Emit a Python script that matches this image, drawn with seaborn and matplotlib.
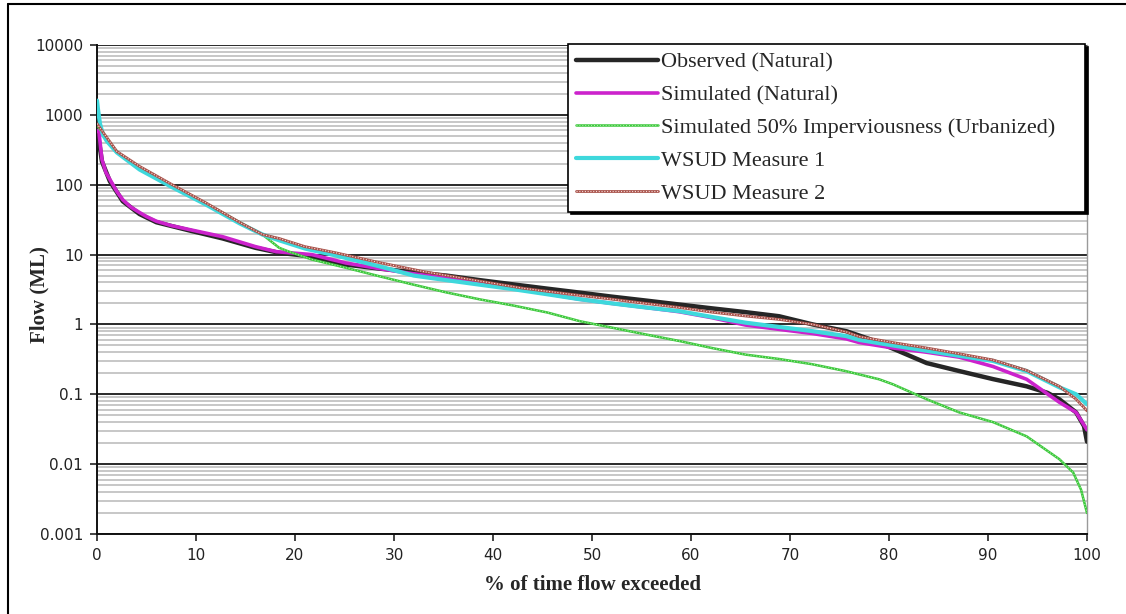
import matplotlib
matplotlib.use("Agg")
import matplotlib.pyplot as plt
from matplotlib.lines import Line2D
from matplotlib.ticker import LogLocator, NullFormatter, FixedLocator, FixedFormatter
import seaborn as sns

# Flow duration curves: % of time exceeded vs flow (ML)
obs_x = [0, 0.2, 0.5, 1.3, 2.6, 4.3, 6, 9.4, 12.7, 16, 18.4, 21.7, 25.1, 28.5, 31.9,
         35.3, 38.7, 42, 45.5, 48.8, 52, 55.4, 58.8, 62.1, 65.5, 68.9, 72.3, 75.7, 78,
         80.4, 83.8, 87.1, 90.5, 93.9, 96, 97.2, 98.9, 99.7, 100]
obs_y = [480, 420, 215, 112, 58, 38, 29, 22, 17, 12.5, 10.6, 9.4, 7.2, 6.3, 5.6,
         5.0, 4.3, 3.75, 3.25, 2.85, 2.5, 2.2, 1.93, 1.7, 1.5, 1.31, 1.0, 0.8, 0.62,
         0.45, 0.28, 0.215, 0.165, 0.13, 0.105, 0.085, 0.055, 0.035, 0.021]

sim_x = [0, 0.2, 0.5, 0.9, 1.3, 2.0, 2.6, 3.4, 4.3, 5.0, 6, 7.5, 9.4, 12.7, 16, 18.1,
         21.7, 25.1, 28.5, 31.2, 35.3, 38.7, 42, 45.5, 48.7, 52, 55.4, 58.8, 62.1, 65.5,
         68.9, 72.3, 75.7, 77, 80.4, 83.8, 87.1, 90.5, 93.9, 97.2, 98.9, 100]
sim_y = [600, 560, 230, 150, 119, 80, 61, 48, 40, 35, 30, 26, 22.7, 18, 13, 11,
         10, 7.6, 6.3, 5.5, 4.6, 3.9, 3.3, 2.75, 2.3, 2.0, 1.75, 1.52, 1.25, 0.98,
         0.85, 0.74, 0.62, 0.55, 0.46, 0.40, 0.34, 0.25, 0.164, 0.077, 0.055, 0.031]

urb_x = [0, 0.4, 2, 4.3, 7.6, 11, 14.4, 16.7, 18.4, 19.4, 21.7, 25.1, 28.5, 31.9,
         35.3, 38.7, 42, 45.5, 48.8, 52, 55.4, 58.8, 62.1, 65.5, 68.9, 72.2, 75.6, 79,
         80.4, 83.8, 87.1, 90.5, 93.9, 97.2, 98.6, 99.4, 100]
urb_y = [700, 600, 290, 175, 97, 54, 29, 19.4, 12.5, 11, 8.5, 6.5, 4.9, 3.73,
         2.87, 2.28, 1.87, 1.48, 1.11, 0.90, 0.72, 0.58, 0.46, 0.37, 0.32, 0.27, 0.215, 0.164,
         0.139, 0.085, 0.055, 0.040, 0.025, 0.0118, 0.0076, 0.0043, 0.002]

ws1_x = [0, 0.1, 0.3, 0.6, 1, 2, 4.3, 7.6, 11, 14.4, 16.7, 18.4, 21, 24, 28.5, 32,
         35.3, 38.7, 42, 45.5, 48.7, 52, 55.4, 58.8, 62.1, 65.5, 68.9, 72.3, 75.7, 77,
         80.4, 83.8, 87.1, 90.5, 93.9, 97.2, 98.9, 100]
ws1_y = [1600, 1200, 750, 520, 420, 290, 165, 92, 52, 28, 19.4, 16, 12.2, 9.8, 6.8, 5.0,
         4.3, 3.7, 3.2, 2.7, 2.3, 2.0, 1.75, 1.55, 1.28, 1.06, 0.92, 0.80, 0.68, 0.60,
         0.50, 0.42, 0.355, 0.30, 0.215, 0.126, 0.10, 0.072]

ws2_x = [0, 0.4, 2, 4.3, 7.6, 11, 14.4, 16.7, 18.4, 21, 24, 28.5, 33, 38.7, 43,
         48.8, 52, 55.4, 58.8, 62.1, 65.5, 68.9, 72.3, 75.7, 77, 80.4, 83.8, 87.1, 90.5,
         93.9, 97.2, 98.9, 100]
ws2_y = [750, 620, 300, 183, 100, 55, 29, 19.4, 17, 13, 10.7, 7.7, 5.7, 4.17, 3.3,
         2.6, 2.3, 2.0, 1.75, 1.5, 1.32, 1.18, 1.0, 0.78, 0.67, 0.55, 0.46, 0.38, 0.31,
         0.22, 0.13, 0.085, 0.058]

labels = ["Observed (Natural)", "Simulated (Natural)",
          "Simulated 50% Imperviousness (Urbanized)", "WSUD Measure 1", "WSUD Measure 2"]

x_ticks = [0, 10, 20, 30, 40, 50, 60, 70, 80, 90, 100]
y_ticks = [0.001, 0.01, 0.1, 1, 10, 100, 1000, 10000]
y_tick_labels = ["0.001", "0.01", "0.1", "1", "10", "100", "1000", "10000"]

sns.set_style("white")
plt.rcParams["font.family"] = ["DejaVu Sans"]

fig = plt.figure(figsize=(11.26, 6.14), dpi=100)
ax = fig.add_axes([97 / 1126, 1 - 534 / 614, (1087 - 97) / 1126, (534 - 45) / 614])

ax.set_yscale("log")
ax.set_xlim(0, 100)
ax.set_ylim(0.001, 10000)

# gridlines: dark at decades, light grey at intermediate values
ax.yaxis.set_minor_locator(LogLocator(base=10, subs=range(2, 10), numticks=20))
ax.yaxis.set_minor_formatter(NullFormatter())
ax.grid(which="major", axis="y", color="#2a2a2a", lw=1.4, zorder=0.5)
ax.grid(which="minor", axis="y", color="#bdbdbd", lw=1.2, zorder=0.4)
ax.grid(which="major", axis="x", visible=False)
ax.set_axisbelow(True)

def draw(xs, ys, **kw):
    sns.lineplot(x=xs, y=ys, ax=ax, estimator=None, sort=False, legend=False, **kw)
    return ax.lines[-1]

h_obs = draw(obs_x, obs_y, color="#262626", lw=3.2, zorder=3)
h_sim = draw(sim_x, sim_y, color="#cc22cc", lw=2.6, zorder=4)
h_urb = draw(urb_x, urb_y, color="#3cc83c", lw=1.8, zorder=5)
h_urb2 = draw(urb_x, urb_y, color="#b8f0b0", lw=0.7, ls=(0, (1, 2)), zorder=5.1)
h_ws1 = draw(ws1_x, ws1_y, color="#3ed8dc", lw=3.0, zorder=6)
h_ws2 = draw(ws2_x, ws2_y, color="#a8524a", lw=2.0, zorder=7)
h_ws2b = draw(ws2_x, ws2_y, color="#f8dada", lw=0.8, ls=(0, (1, 1.5)), zorder=7.1)

ax.xaxis.set_major_locator(FixedLocator(x_ticks))
ax.yaxis.set_major_locator(FixedLocator(y_ticks))
ax.yaxis.set_major_formatter(FixedFormatter(y_tick_labels))
ax.tick_params(axis="both", which="major", direction="out", length=5, width=1.2,
               color="#222222", labelsize=11, labelcolor="#222222", pad=5,
               left=True, bottom=True)
ax.tick_params(axis="y", which="minor", left=False)

ax.spines["top"].set_visible(False)
ax.spines["left"].set_color("#111111")
ax.spines["left"].set_linewidth(1.4)
ax.spines["bottom"].set_color("#111111")
ax.spines["bottom"].set_linewidth(1.4)
ax.spines["right"].set_color("#9a9a9a")
ax.spines["right"].set_linewidth(1.0)

serif = ["Liberation Serif", "DejaVu Serif"]
ax.set_xlabel("% of time flow exceeded", family=serif, fontweight="bold",
              fontsize=15, labelpad=9)
ax.set_ylabel("Flow (ML)", family=serif, fontweight="bold", fontsize=15)
ax.yaxis.set_label_coords(-0.048, 0.49)

handles = [h_obs, h_sim, (h_urb, h_urb2), h_ws1, (h_ws2, h_ws2b)]
leg = fig.legend(handles, labels, loc="upper left", mode="expand",
                 bbox_to_anchor=(568 / 1126, 1 - 212 / 614, 517 / 1126, 168 / 614),
                 prop={"family": serif, "size": 16},
                 frameon=True, fancybox=False, edgecolor="black",
                 shadow={"color": "black", "alpha": 1.0},
                 handlelength=3.7, handletextpad=0.12, labelspacing=0.55,
                 borderpad=0.36, borderaxespad=0)
leg.get_frame().set_linewidth(1.2)

# outer chart frame (left and top edges)
fig.add_artist(Line2D([8 / 1126, 8 / 1126], [0, 1 - 4 / 614], transform=fig.transFigure,
                      color="black", lw=1.5))
fig.add_artist(Line2D([8 / 1126, 1], [1 - 4 / 614, 1 - 4 / 614], transform=fig.transFigure,
                      color="black", lw=1.5))

fig.savefig("out.png", dpi=100)
